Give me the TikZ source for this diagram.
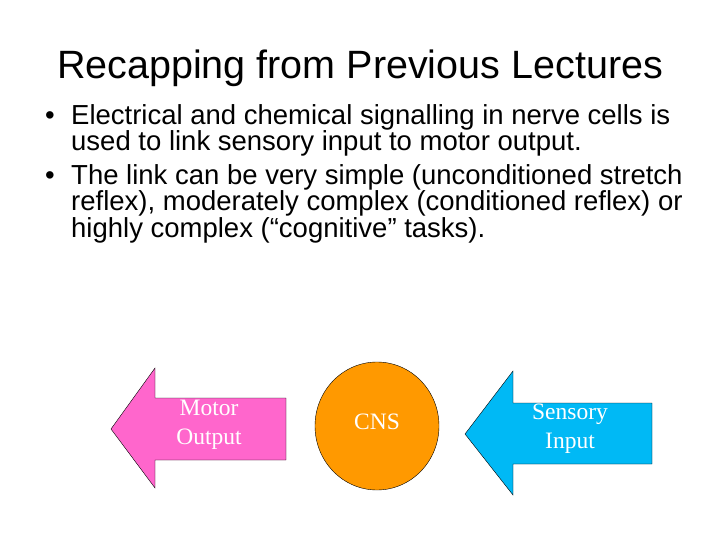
\documentclass[tikz,border=0pt]{standalone}
\usepackage{fontspec}
\setmainfont{Liberation Sans}
\newfontfamily\serifface{Liberation Serif}
\definecolor{motorpink}{RGB}{255,102,204}
\definecolor{cnsorange}{RGB}{255,153,0}
\definecolor{sensblue}{RGB}{0,185,245}
\tikzset{
  bodytext/.style={anchor=base west, inner sep=0pt, font=\fontsize{27.5}{30}\selectfont},
  shapelabel/.style={align=center, text=white, font=\serifface\fontsize{23.5}{29}\selectfont}
}
\begin{document}
\begin{tikzpicture}[x=1pt,y=-1pt]
\useasboundingbox (0,0) rectangle (720,540);
% Title
\node (title) at (360,68) {\fontsize{39.5}{44}\selectfont Recapping from Previous Lectures};

% Bullets
\node[bodytext] (b1) at (45,125) {\textbullet};
\node[bodytext] (t1a) at (71,125) {Electrical and chemical signalling in nerve cells is};
\node[bodytext] (t1b) at (71,151) {used to link sensory input to motor output.};
\node[bodytext] (b2) at (45,185) {\textbullet};
\node[bodytext] (t2a) at (71,185) {The link can be very simple (unconditioned stretch};
\node[bodytext] (t2b) at (71,211) {reflex), moderately complex (conditioned reflex) or};
\node[bodytext] (t2c) at (71,237) {highly complex (“cognitive” tasks).};

% Motor arrow
\draw[fill=motorpink] (111,429) -- (155,368) -- (155,398) -- (286,398) -- (286,460) -- (155,460) -- (155,488) -- cycle;
\node[shapelabel] (motor) at (209,425) {Motor\\Output};

% CNS
\draw[fill=cnsorange] (377,426) ellipse (62 and 64);
\node[shapelabel] (cns) at (377,422) {CNS};

% Sensory arrow
\draw[fill=sensblue] (465,434) -- (513,371) -- (513,403) -- (652,403) -- (652,464) -- (513,464) -- (513,495) -- cycle;
\node[shapelabel] (sensory) at (570,429) {Sensory\\Input};
\end{tikzpicture}
\end{document}
